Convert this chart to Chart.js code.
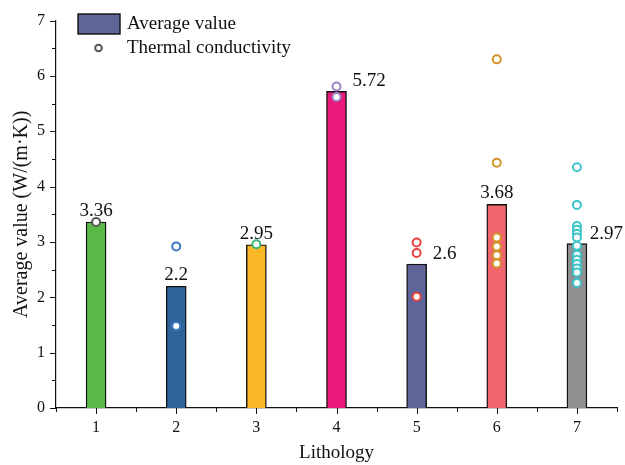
<!DOCTYPE html>
<html>
<head>
<meta charset="utf-8">
<script src="https://cdn.jsdelivr.net/npm/chart.js@4.4.0/dist/chart.umd.min.js"></script>
<style>
    body { margin: 0; background: #fff; }
    #wrap { width: 625px; height: 465px; }
</style>
</head>
<body>
<div id="wrap"><canvas id="chart_canvas"></canvas></div>
<script>
// lithology classes and mean values
var lithology = [1, 2, 3, 4, 5, 6, 7];
var averages = [3.36, 2.2, 2.95, 5.72, 2.6, 3.68, 2.97];
// individual thermal conductivity samples per lithology
var conductivity1 = [3.36];
var conductivity2 = [2.92, 1.48];
var conductivity3 = [2.96];
var conductivity4 = [5.81, 5.62];
var conductivity5 = [2.99, 2.80, 2.01];
var conductivity6 = [6.30, 4.43, 3.08, 2.92, 2.76, 2.61];
var conductivity7 = [4.35, 3.67, 3.29, 3.22, 3.15, 3.08, 2.93, 2.77, 2.68, 2.60, 2.52, 2.45, 2.26];
var yTicks = [0, 1, 2, 3, 4, 5, 6, 7];

var barColors = ["#5ab946", "#2e6498", "#fab826", "#e8187d", "#5f6499", "#f0666c", "#8d8f91"];
var pointColors = ["#555555", "#3b78c6", "#3cb878", "#9b84c4", "#e8423f", "#d4942a", "#3cc4c8"];
var labelSide = ['top', 'top', 'top', 'right', 'right', 'top', 'right'];
var serif = "'Liberation Serif', 'Times New Roman', serif";

var samples = [conductivity1, conductivity2, conductivity3, conductivity4, conductivity5, conductivity6, conductivity7];

var datasets = [{
    type: 'bar',
    label: 'Average value',
    data: lithology.map(function (l, i) { return { x: l, y: averages[i] }; }),
    backgroundColor: barColors,
    borderColor: '#111',
    borderWidth: 1.4,
    barThickness: 20,
    order: 2
}];
for (var i = 0; i < samples.length; i++) {
    datasets.push({
        type: 'scatter',
        label: 'Thermal conductivity ' + lithology[i],
        data: samples[i].map(function (v) { return { x: lithology[i], y: v }; }),
        pointStyle: 'circle',
        pointRadius: 4,
        pointBorderWidth: 2,
        pointBorderColor: pointColors[i],
        pointBackgroundColor: '#fff',
        order: 1
    });
}

// tick marks drawn outward, major + minor
var tickPlugin = {
    id: 'ticks',
    afterDraw: function (chart) {
        var ctx = chart.ctx;
        var xs = chart.scales.x, ys = chart.scales.y;
        var area = chart.chartArea;
        ctx.save();
        ctx.strokeStyle = '#111';
        ctx.lineWidth = 1;
        ctx.beginPath();
        for (var v = 0.5; v <= 7.5; v += 0.5) {
            var px = Math.round(xs.getPixelForValue(v)) + 0.5;
            var len = Number.isInteger(v) ? 6 : 4;
            ctx.moveTo(px, area.bottom);
            ctx.lineTo(px, area.bottom + len);
        }
        for (var w = 0; w <= 7; w += 0.5) {
            var py = Math.round(ys.getPixelForValue(w)) + 0.5;
            var l2 = Number.isInteger(w) ? 6 : 4;
            ctx.moveTo(area.left, py);
            ctx.lineTo(area.left - l2, py);
        }
        ctx.stroke();
        ctx.restore();
    }
};

// value labels on the bars
var valuePlugin = {
    id: 'values',
    afterDatasetsDraw: function (chart) {
        var ctx = chart.ctx;
        var meta = chart.getDatasetMeta(0);
        ctx.save();
        ctx.font = '19px ' + serif;
        ctx.fillStyle = '#111';
        meta.data.forEach(function (bar, i) {
            var txt = String(averages[i]);
            if (labelSide[i] == 'top') {
                ctx.textAlign = 'center';
                ctx.textBaseline = 'alphabetic';
                ctx.fillText(txt, bar.x, bar.y - 6);
            } else {
                var tw = ctx.measureText(txt).width;
                var tx = Math.min(bar.x + bar.width / 2 + 6, chart.width - tw - 2);
                ctx.textAlign = 'left';
                ctx.textBaseline = 'middle';
                ctx.fillText(txt, tx, bar.y - 10);
            }
        });
        ctx.restore();
    }
};

// legend in the upper left corner
var legendPlugin = {
    id: 'legendBox',
    afterDraw: function (chart) {
        var ctx = chart.ctx;
        ctx.save();
        ctx.fillStyle = barColors[4];
        ctx.fillRect(78, 14, 42, 20);
        ctx.strokeStyle = '#111';
        ctx.lineWidth = 1.4;
        ctx.strokeRect(78, 14, 42, 20);
        ctx.beginPath();
        ctx.arc(98.5, 48, 3.3, 0, Math.PI * 2);
        ctx.fillStyle = '#fff';
        ctx.fill();
        ctx.lineWidth = 2;
        ctx.strokeStyle = '#555';
        ctx.stroke();
        ctx.font = '19px ' + serif;
        ctx.fillStyle = '#111';
        ctx.textAlign = 'left';
        ctx.textBaseline = 'middle';
        ctx.fillText('Average value', 127, 24);
        ctx.fillText('Thermal conductivity', 127, 48);
        ctx.restore();
    }
};

var myChart = new Chart('chart_canvas', {
    data: { datasets: datasets },
    plugins: [tickPlugin, valuePlugin, legendPlugin],
    options: {
        responsive: true,
        maintainAspectRatio: false,
        animation: false,
        layout: { padding: { top: 15, right: 8, left: 0, bottom: 0 } },
        plugins: {
            legend: { display: false },
            tooltip: { enabled: false }
        },
        scales: {
            x: {
                type: 'linear',
                offset: false,
                min: 0.5,
                max: 7.5,
                afterBuildTicks: function (scale) {
                    scale.ticks = lithology.map(function (v) { return { value: v }; });
                },
                afterFit: function (scale) { scale.height = 57; },
                grid: { display: false, drawTicks: false },
                border: { display: true, color: '#111', width: 1.2 },
                ticks: {
                    color: '#111',
                    padding: 10,
                    font: { family: serif, size: 16 },
                    callback: function (v) { return v; }
                },
                title: {
                    display: true,
                    text: 'Lithology',
                    color: '#111',
                    font: { family: serif, size: 19 },
                    padding: { top: 0, bottom: 1 }
                }
            },
            y: {
                min: 0,
                max: 7,
                afterBuildTicks: function (scale) {
                    scale.ticks = yTicks.map(function (v) { return { value: v }; });
                },
                afterFit: function (scale) { scale.width = 56; },
                grid: { display: false, drawTicks: false },
                border: { display: true, color: '#111', width: 1.2 },
                ticks: {
                    color: '#111',
                    padding: 11,
                    font: { family: serif, size: 16 }
                },
                title: {
                    display: true,
                    text: 'Average value (W/(m\u00b7K))',
                    color: '#111',
                    font: { family: serif, size: 20 },
                    padding: { top: 10, bottom: 0 }
                }
            }
        }
    }
});
</script>
</body>
</html>
